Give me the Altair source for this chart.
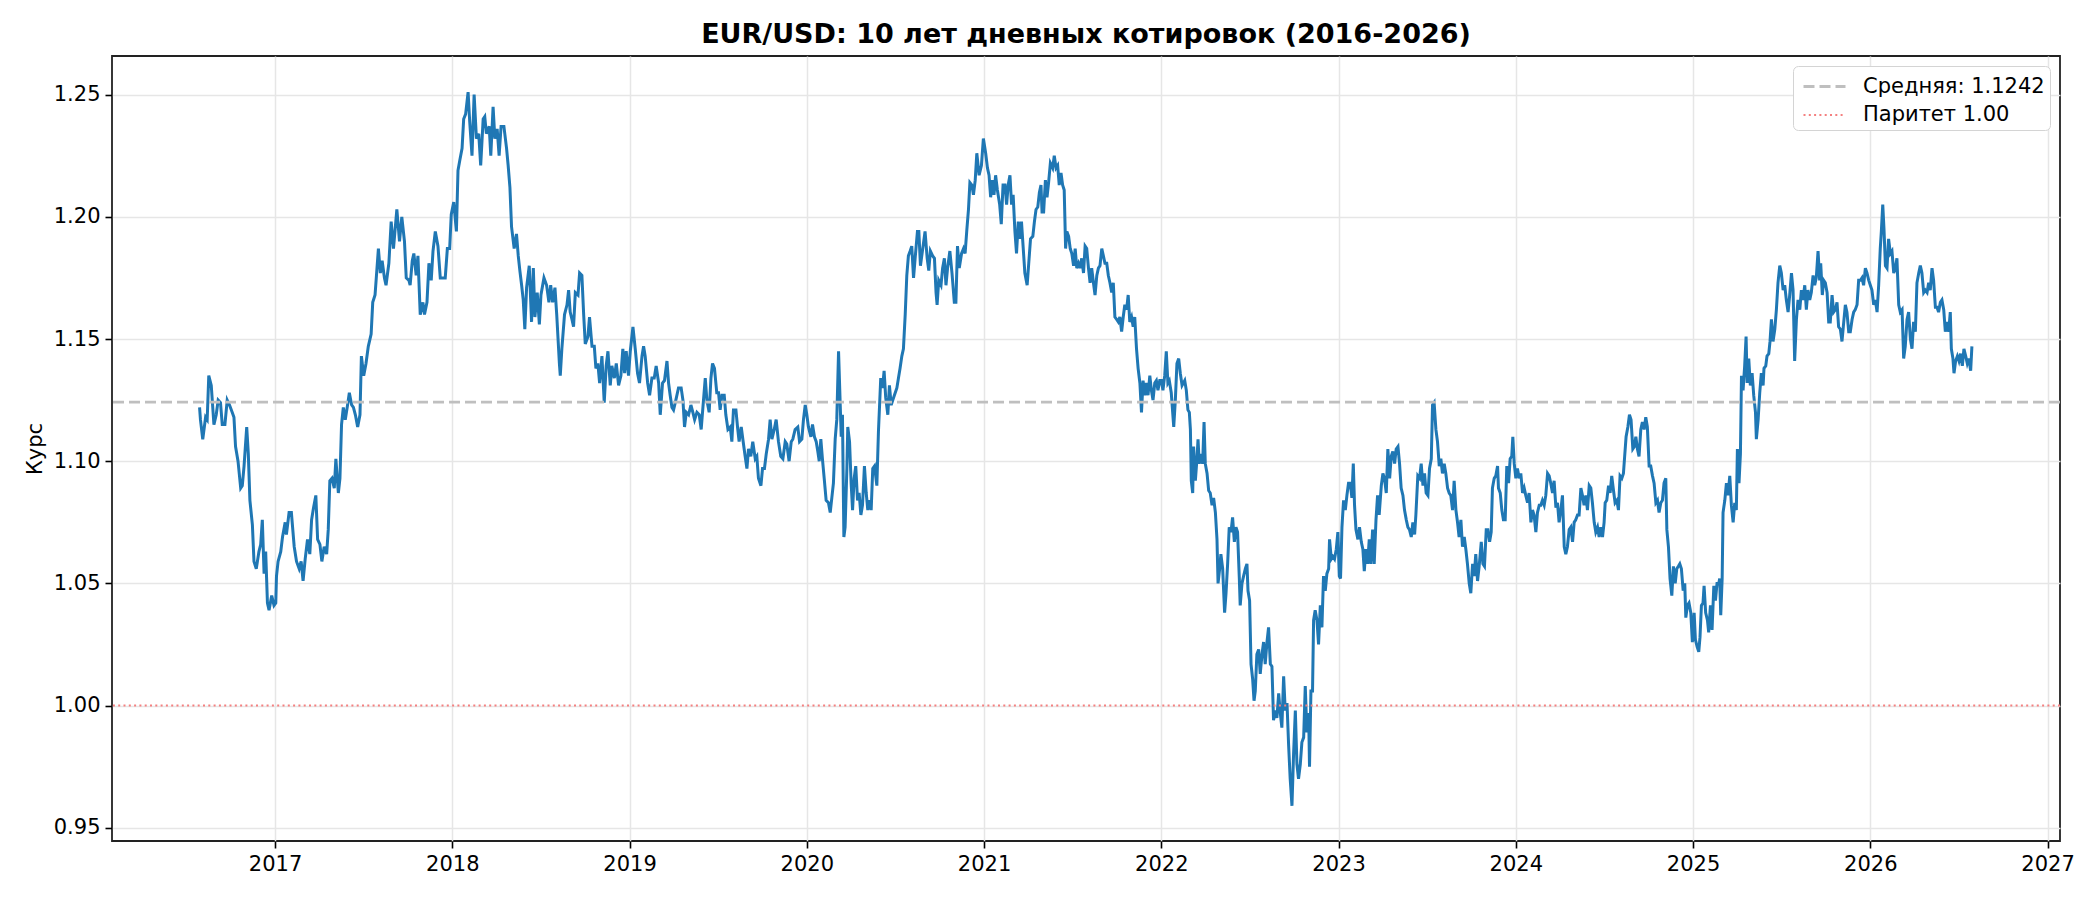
import altair as alt
import pandas as pd

# (decimal year, EUR/USD rate), by stretch
seg_2016_2018 = [
    (2016.574, 1.122), (2016.579, 1.117), (2016.592, 1.109), (2016.608, 1.118), (2016.617, 1.117),
    (2016.626, 1.135), (2016.640, 1.131), (2016.655, 1.115), (2016.668, 1.119), (2016.679, 1.125),
    (2016.692, 1.124), (2016.702, 1.115), (2016.717, 1.115), (2016.730, 1.125), (2016.743, 1.123),
    (2016.758, 1.120), (2016.768, 1.118), (2016.777, 1.106), (2016.791, 1.100), (2016.806, 1.089),
    (2016.815, 1.090), (2016.825, 1.098), (2016.840, 1.114), (2016.849, 1.103), (2016.858, 1.084),
    (2016.872, 1.074), (2016.881, 1.059), (2016.894, 1.056), (2016.909, 1.063), (2016.919, 1.066),
    (2016.928, 1.076), (2016.938, 1.054), (2016.947, 1.063), (2016.957, 1.042), (2016.966, 1.039),
    (2016.981, 1.045), (2016.994, 1.041), (2017.004, 1.042), (2017.008, 1.053), (2017.017, 1.059),
    (2017.032, 1.063), (2017.042, 1.069), (2017.057, 1.075), (2017.064, 1.070), (2017.079, 1.079),
    (2017.092, 1.079), (2017.108, 1.065), (2017.121, 1.059), (2017.136, 1.056), (2017.147, 1.059),
    (2017.158, 1.051), (2017.170, 1.060), (2017.183, 1.068), (2017.196, 1.062), (2017.206, 1.076),
    (2017.217, 1.081), (2017.230, 1.086), (2017.240, 1.068), (2017.253, 1.066), (2017.264, 1.059),
    (2017.277, 1.065), (2017.291, 1.062), (2017.300, 1.072), (2017.309, 1.092), (2017.321, 1.093),
    (2017.334, 1.089), (2017.343, 1.101), (2017.357, 1.087), (2017.366, 1.093), (2017.375, 1.115),
    (2017.385, 1.122), (2017.396, 1.117), (2017.409, 1.123), (2017.419, 1.128), (2017.432, 1.123),
    (2017.442, 1.122), (2017.453, 1.119), (2017.466, 1.114), (2017.479, 1.119), (2017.487, 1.143),
    (2017.500, 1.135), (2017.513, 1.140), (2017.526, 1.147), (2017.542, 1.152), (2017.551, 1.165),
    (2017.564, 1.168), (2017.570, 1.174), (2017.583, 1.187), (2017.594, 1.177), (2017.604, 1.182),
    (2017.617, 1.175), (2017.626, 1.172), (2017.642, 1.181), (2017.655, 1.198), (2017.668, 1.187),
    (2017.687, 1.203), (2017.702, 1.190), (2017.715, 1.200), (2017.730, 1.190), (2017.740, 1.175),
    (2017.755, 1.174), (2017.762, 1.172), (2017.774, 1.182), (2017.783, 1.185), (2017.796, 1.176),
    (2017.806, 1.184), (2017.819, 1.160), (2017.834, 1.165), (2017.843, 1.160), (2017.857, 1.165),
    (2017.868, 1.181), (2017.881, 1.174), (2017.891, 1.186), (2017.904, 1.194), (2017.919, 1.188),
    (2017.932, 1.175), (2017.947, 1.175), (2017.960, 1.175), (2017.972, 1.187), (2017.985, 1.187),
    (2017.994, 1.201), (2018.008, 1.206), (2018.023, 1.194), (2018.032, 1.219), (2018.042, 1.223),
    (2018.055, 1.228), (2018.064, 1.240), (2018.075, 1.242), (2018.089, 1.251), (2018.098, 1.239),
    (2018.111, 1.225), (2018.123, 1.250), (2018.136, 1.232), (2018.149, 1.234), (2018.160, 1.221),
    (2018.174, 1.240), (2018.183, 1.241), (2018.192, 1.234), (2018.208, 1.237), (2018.217, 1.225),
    (2018.230, 1.245), (2018.240, 1.232), (2018.253, 1.236), (2018.264, 1.225), (2018.275, 1.237),
    (2018.291, 1.237), (2018.306, 1.228), (2018.315, 1.221), (2018.325, 1.212), (2018.334, 1.196),
    (2018.349, 1.187), (2018.362, 1.193), (2018.372, 1.184), (2018.381, 1.178), (2018.391, 1.172),
    (2018.400, 1.166), (2018.409, 1.154), (2018.419, 1.171), (2018.434, 1.180), (2018.447, 1.157),
    (2018.457, 1.179), (2018.466, 1.159), (2018.479, 1.169), (2018.491, 1.156), (2018.500, 1.168),
    (2018.517, 1.175), (2018.532, 1.172), (2018.545, 1.165), (2018.555, 1.172), (2018.566, 1.165),
    (2018.579, 1.171), (2018.589, 1.160), (2018.604, 1.140),
]

seg_2018_2020 = [
    (2018.609, 1.135), (2018.618, 1.146), (2018.633, 1.160), (2018.647, 1.164), (2018.656, 1.170),
    (2018.665, 1.161), (2018.675, 1.158), (2018.684, 1.155), (2018.694, 1.169), (2018.709, 1.168),
    (2018.718, 1.177), (2018.731, 1.176), (2018.741, 1.160), (2018.750, 1.148), (2018.765, 1.151),
    (2018.774, 1.159), (2018.788, 1.147), (2018.801, 1.147), (2018.810, 1.138), (2018.821, 1.140),
    (2018.831, 1.132), (2018.844, 1.143), (2018.857, 1.124), (2018.868, 1.139), (2018.878, 1.145),
    (2018.891, 1.131), (2018.900, 1.139), (2018.914, 1.134), (2018.925, 1.140), (2018.938, 1.131),
    (2018.951, 1.135), (2018.962, 1.146), (2018.972, 1.136), (2018.981, 1.145), (2018.994, 1.135),
    (2019.004, 1.145), (2019.019, 1.155), (2019.032, 1.146), (2019.045, 1.136), (2019.056, 1.132),
    (2019.070, 1.143), (2019.079, 1.147), (2019.088, 1.143), (2019.102, 1.132), (2019.113, 1.127),
    (2019.126, 1.134), (2019.139, 1.134), (2019.150, 1.139), (2019.164, 1.132), (2019.173, 1.119),
    (2019.186, 1.132), (2019.197, 1.133), (2019.211, 1.141), (2019.220, 1.132), (2019.229, 1.127),
    (2019.239, 1.122), (2019.248, 1.121), (2019.261, 1.125), (2019.276, 1.130), (2019.291, 1.130),
    (2019.301, 1.125), (2019.310, 1.114), (2019.320, 1.120), (2019.333, 1.119), (2019.346, 1.123),
    (2019.357, 1.120), (2019.367, 1.117), (2019.380, 1.120), (2019.393, 1.119), (2019.404, 1.113),
    (2019.417, 1.125), (2019.427, 1.134), (2019.436, 1.125), (2019.449, 1.120), (2019.459, 1.134),
    (2019.468, 1.140), (2019.479, 1.138), (2019.492, 1.128), (2019.502, 1.128), (2019.511, 1.121),
    (2019.521, 1.127), (2019.534, 1.127), (2019.543, 1.119), (2019.555, 1.113), (2019.568, 1.114),
    (2019.577, 1.108), (2019.586, 1.121), (2019.600, 1.121), (2019.609, 1.114), (2019.618, 1.108),
    (2019.630, 1.114), (2019.639, 1.109), (2019.652, 1.102), (2019.662, 1.097), (2019.671, 1.105),
    (2019.684, 1.102), (2019.695, 1.108), (2019.709, 1.101), (2019.718, 1.102), (2019.727, 1.093),
    (2019.741, 1.090), (2019.750, 1.097), (2019.761, 1.097), (2019.771, 1.103), (2019.784, 1.109),
    (2019.793, 1.117), (2019.803, 1.109), (2019.816, 1.113), (2019.827, 1.117), (2019.840, 1.108),
    (2019.853, 1.102), (2019.865, 1.101), (2019.878, 1.108), (2019.887, 1.107), (2019.900, 1.100),
    (2019.912, 1.108), (2019.921, 1.109), (2019.934, 1.113), (2019.949, 1.114), (2019.959, 1.108),
    (2019.972, 1.109), (2019.981, 1.117), (2019.991, 1.123), (2020.000, 1.119), (2020.009, 1.114),
    (2020.023, 1.110), (2020.032, 1.115), (2020.043, 1.110), (2020.053, 1.108), (2020.062, 1.104),
    (2020.070, 1.100), (2020.079, 1.109), (2020.088, 1.101), (2020.098, 1.093), (2020.109, 1.084),
    (2020.122, 1.083), (2020.132, 1.079), (2020.141, 1.085), (2020.150, 1.091), (2020.160, 1.109),
    (2020.169, 1.117), (2020.179, 1.145), (2020.188, 1.124), (2020.194, 1.110), (2020.201, 1.119),
    (2020.209, 1.069), (2020.216, 1.073), (2020.226, 1.097), (2020.231, 1.114), (2020.241, 1.108),
    (2020.250, 1.091), (2020.258, 1.080), (2020.267, 1.093), (2020.276, 1.098), (2020.286, 1.084),
    (2020.295, 1.087), (2020.305, 1.078), (2020.314, 1.082), (2020.325, 1.098), (2020.335, 1.087),
    (2020.344, 1.080), (2020.353, 1.084), (2020.363, 1.080), (2020.372, 1.097), (2020.382, 1.098),
    (2020.395, 1.090), (2020.404, 1.112), (2020.417, 1.134), (2020.427, 1.130), (2020.436, 1.137),
    (2020.445, 1.126), (2020.457, 1.119), (2020.466, 1.131), (2020.476, 1.123), (2020.485, 1.125),
    (2020.494, 1.127), (2020.508, 1.130), (2020.517, 1.134), (2020.526, 1.138), (2020.536, 1.143),
    (2020.545, 1.146), (2020.555, 1.160), (2020.564, 1.176), (2020.573, 1.184), (2020.583, 1.186),
    (2020.592, 1.188), (2020.602, 1.175), (2020.611, 1.183), (2020.624, 1.194),
]

seg_2020_2022 = [
    (2020.632, 1.194), (2020.641, 1.180), (2020.654, 1.187), (2020.667, 1.194), (2020.679, 1.183),
    (2020.688, 1.178), (2020.697, 1.186), (2020.710, 1.184), (2020.720, 1.183), (2020.729, 1.169),
    (2020.735, 1.164), (2020.744, 1.174), (2020.757, 1.172), (2020.766, 1.179), (2020.776, 1.183),
    (2020.785, 1.172), (2020.794, 1.179), (2020.807, 1.186), (2020.819, 1.177), (2020.832, 1.165),
    (2020.841, 1.165), (2020.850, 1.188), (2020.860, 1.179), (2020.873, 1.185), (2020.884, 1.187),
    (2020.893, 1.185), (2020.903, 1.195), (2020.912, 1.203), (2020.920, 1.214), (2020.931, 1.213),
    (2020.940, 1.209), (2020.950, 1.215), (2020.959, 1.226), (2020.972, 1.217), (2020.985, 1.221),
    (2020.996, 1.232), (2021.009, 1.226), (2021.019, 1.220), (2021.028, 1.217), (2021.037, 1.208),
    (2021.047, 1.215), (2021.056, 1.209), (2021.065, 1.217), (2021.075, 1.211), (2021.088, 1.205),
    (2021.097, 1.197), (2021.107, 1.213), (2021.118, 1.213), (2021.127, 1.205), (2021.136, 1.213),
    (2021.146, 1.217), (2021.155, 1.205), (2021.164, 1.209), (2021.174, 1.194), (2021.183, 1.185),
    (2021.193, 1.198), (2021.202, 1.191), (2021.211, 1.198), (2021.221, 1.187), (2021.230, 1.177),
    (2021.243, 1.172), (2021.252, 1.181), (2021.262, 1.191), (2021.275, 1.192), (2021.284, 1.198),
    (2021.293, 1.203), (2021.303, 1.204), (2021.312, 1.210), (2021.321, 1.213), (2021.327, 1.202),
    (2021.336, 1.202), (2021.346, 1.215), (2021.355, 1.208), (2021.364, 1.214), (2021.374, 1.222),
    (2021.387, 1.220), (2021.396, 1.225), (2021.406, 1.220), (2021.415, 1.221), (2021.424, 1.213),
    (2021.434, 1.218), (2021.443, 1.213), (2021.452, 1.211), (2021.460, 1.187), (2021.467, 1.194),
    (2021.477, 1.192), (2021.486, 1.187), (2021.495, 1.185), (2021.505, 1.180), (2021.514, 1.187),
    (2021.523, 1.179), (2021.533, 1.181), (2021.542, 1.179), (2021.551, 1.183), (2021.561, 1.177),
    (2021.570, 1.188), (2021.579, 1.187), (2021.589, 1.179), (2021.598, 1.173), (2021.607, 1.179),
    (2021.617, 1.173), (2021.626, 1.168), (2021.636, 1.176), (2021.645, 1.179), (2021.654, 1.180),
    (2021.664, 1.187), (2021.673, 1.184), (2021.682, 1.181), (2021.692, 1.181), (2021.701, 1.176),
    (2021.710, 1.173), (2021.720, 1.169), (2021.729, 1.173), (2021.738, 1.159), (2021.748, 1.158),
    (2021.757, 1.157), (2021.766, 1.159), (2021.776, 1.153), (2021.785, 1.159), (2021.794, 1.164),
    (2021.804, 1.162), (2021.813, 1.168), (2021.822, 1.157), (2021.832, 1.159), (2021.841, 1.155),
    (2021.850, 1.159), (2021.860, 1.146), (2021.869, 1.138), (2021.879, 1.132), (2021.888, 1.120),
    (2021.897, 1.133), (2021.907, 1.127), (2021.916, 1.132), (2021.925, 1.127), (2021.935, 1.135),
    (2021.944, 1.129), (2021.953, 1.125), (2021.963, 1.132), (2021.972, 1.133), (2021.981, 1.129),
    (2021.991, 1.133), (2022.000, 1.133), (2022.009, 1.129), (2022.019, 1.135), (2022.028, 1.145),
    (2022.037, 1.132),
]

seg_2022_2023 = [
    (2022.045, 1.133), (2022.056, 1.128), (2022.070, 1.114), (2022.079, 1.125), (2022.088, 1.140),
    (2022.098, 1.142), (2022.107, 1.136), (2022.117, 1.131), (2022.132, 1.133), (2022.141, 1.129),
    (2022.150, 1.121), (2022.158, 1.120), (2022.164, 1.113), (2022.169, 1.092), (2022.177, 1.087),
    (2022.182, 1.106), (2022.192, 1.092), (2022.201, 1.101), (2022.207, 1.109), (2022.214, 1.099),
    (2022.224, 1.103), (2022.233, 1.099), (2022.241, 1.116), (2022.248, 1.099), (2022.258, 1.095),
    (2022.267, 1.088), (2022.276, 1.087), (2022.286, 1.082), (2022.295, 1.085), (2022.305, 1.079),
    (2022.314, 1.068), (2022.320, 1.050), (2022.329, 1.056), (2022.336, 1.062), (2022.346, 1.056),
    (2022.357, 1.038), (2022.365, 1.046), (2022.374, 1.058), (2022.383, 1.073), (2022.393, 1.071),
    (2022.402, 1.077), (2022.412, 1.067), (2022.421, 1.073), (2022.430, 1.071), (2022.440, 1.052),
    (2022.445, 1.041), (2022.455, 1.050), (2022.464, 1.053), (2022.474, 1.056), (2022.483, 1.058),
    (2022.489, 1.047), (2022.498, 1.043), (2022.506, 1.017), (2022.515, 1.011), (2022.523, 1.002),
    (2022.530, 1.006), (2022.539, 1.021), (2022.549, 1.023), (2022.558, 1.013), (2022.568, 1.021),
    (2022.577, 1.026), (2022.586, 1.017), (2022.596, 1.026), (2022.605, 1.032), (2022.615, 1.017),
    (2022.624, 1.016), (2022.633, 0.994), (2022.643, 0.998), (2022.652, 0.995), (2022.662, 1.005),
    (2022.671, 0.997), (2022.680, 0.991), (2022.690, 1.012), (2022.699, 0.998), (2022.709, 1.001),
    (2022.718, 0.984), (2022.727, 0.970), (2022.737, 0.959), (2022.746, 0.980), (2022.756, 0.998),
    (2022.765, 0.976), (2022.774, 0.970), (2022.784, 0.976), (2022.793, 0.985), (2022.803, 0.987),
    (2022.812, 1.008), (2022.821, 0.989), (2022.831, 0.997), (2022.836, 0.975), (2022.844, 1.006),
    (2022.853, 1.006), (2022.859, 1.035), (2022.868, 1.039), (2022.878, 1.035), (2022.887, 1.025),
    (2022.897, 1.041), (2022.906, 1.032), (2022.915, 1.053), (2022.925, 1.047), (2022.934, 1.054),
    (2022.944, 1.056), (2022.949, 1.068), (2022.959, 1.060), (2022.968, 1.061), (2022.977, 1.060),
    (2022.987, 1.064), (2022.996, 1.071), (2023.004, 1.053), (2023.011, 1.052), (2023.019, 1.073),
    (2023.028, 1.084), (2023.038, 1.080), (2023.047, 1.086), (2023.056, 1.091),
]

seg_2023_2024 = [
    (2023.066, 1.091), (2023.075, 1.085), (2023.083, 1.099), (2023.090, 1.082), (2023.098, 1.072),
    (2023.109, 1.068), (2023.118, 1.073), (2023.128, 1.067), (2023.137, 1.064), (2023.145, 1.055),
    (2023.154, 1.064), (2023.164, 1.058), (2023.173, 1.068), (2023.182, 1.058), (2023.192, 1.072),
    (2023.201, 1.058), (2023.211, 1.076), (2023.220, 1.086), (2023.229, 1.078), (2023.241, 1.090),
    (2023.250, 1.095), (2023.259, 1.093), (2023.269, 1.087), (2023.278, 1.105), (2023.288, 1.093),
    (2023.297, 1.102), (2023.306, 1.104), (2023.316, 1.099), (2023.325, 1.105), (2023.335, 1.106),
    (2023.344, 1.099), (2023.353, 1.089), (2023.363, 1.086), (2023.372, 1.080), (2023.382, 1.076),
    (2023.391, 1.073), (2023.400, 1.072), (2023.410, 1.069), (2023.419, 1.075), (2023.429, 1.070),
    (2023.436, 1.078), (2023.447, 1.094), (2023.457, 1.093), (2023.466, 1.099), (2023.476, 1.090),
    (2023.485, 1.095), (2023.494, 1.087), (2023.504, 1.086), (2023.513, 1.097), (2023.523, 1.101),
    (2023.530, 1.123), (2023.539, 1.124), (2023.549, 1.113), (2023.558, 1.108), (2023.568, 1.098),
    (2023.577, 1.101), (2023.586, 1.095), (2023.596, 1.099), (2023.605, 1.095), (2023.615, 1.089),
    (2023.624, 1.087), (2023.633, 1.086), (2023.643, 1.080), (2023.652, 1.092), (2023.662, 1.080),
    (2023.671, 1.075), (2023.680, 1.069), (2023.690, 1.076), (2023.699, 1.065), (2023.709, 1.069),
    (2023.718, 1.064), (2023.727, 1.058), (2023.737, 1.050), (2023.746, 1.046), (2023.756, 1.058),
    (2023.765, 1.053), (2023.774, 1.062), (2023.784, 1.051), (2023.793, 1.057), (2023.805, 1.067),
    (2023.814, 1.058), (2023.823, 1.057), (2023.833, 1.072), (2023.842, 1.072), (2023.852, 1.067),
    (2023.861, 1.071), (2023.868, 1.089), (2023.878, 1.093), (2023.887, 1.094), (2023.897, 1.098),
    (2023.902, 1.089), (2023.912, 1.087), (2023.921, 1.080), (2023.930, 1.076), (2023.940, 1.076),
    (2023.949, 1.098), (2023.959, 1.091), (2023.968, 1.101), (2023.977, 1.102), (2023.983, 1.110),
    (2023.991, 1.099), (2024.000, 1.093), (2024.009, 1.097), (2024.019, 1.093), (2024.028, 1.095),
    (2024.038, 1.087), (2024.047, 1.089), (2024.056, 1.086), (2024.066, 1.083), (2024.075, 1.087),
    (2024.085, 1.075), (2024.094, 1.080), (2024.103, 1.078), (2024.113, 1.071), (2024.122, 1.079),
    (2024.132, 1.082), (2024.141, 1.082), (2024.150, 1.084), (2024.160, 1.082), (2024.169, 1.086),
    (2024.179, 1.095), (2024.188, 1.094), (2024.197, 1.091), (2024.207, 1.087), (2024.216, 1.092),
    (2024.226, 1.081), (2024.235, 1.083), (2024.244, 1.075), (2024.254, 1.080), (2024.263, 1.086),
    (2024.273, 1.065), (2024.282, 1.062), (2024.291, 1.065), (2024.301, 1.072), (2024.310, 1.073),
    (2024.320, 1.067), (2024.329, 1.075), (2024.338, 1.076), (2024.348, 1.078), (2024.357, 1.078),
    (2024.367, 1.089), (2024.376, 1.086), (2024.385, 1.082), (2024.395, 1.086), (2024.404, 1.080),
    (2024.414, 1.090), (2024.423, 1.089), (2024.432, 1.083), (2024.442, 1.075), (2024.451, 1.071),
    (2024.461, 1.073), (2024.470, 1.069), (2024.479, 1.073), (2024.489, 1.069), (2024.498, 1.075),
    (2024.504, 1.083), (2024.513, 1.084), (2024.523, 1.090), (2024.532, 1.087), (2024.541, 1.094),
    (2024.551, 1.088), (2024.560, 1.083), (2024.570, 1.084), (2024.579, 1.080), (2024.588, 1.094),
    (2024.598, 1.093), (2024.607, 1.095), (2024.613, 1.101), (2024.622, 1.110), (2024.632, 1.114),
    (2024.641, 1.119), (2024.650, 1.117), (2024.660, 1.105), (2024.669, 1.106), (2024.677, 1.110),
    (2024.686, 1.105), (2024.695, 1.102), (2024.705, 1.113), (2024.714, 1.116), (2024.724, 1.113),
    (2024.733, 1.118), (2024.742, 1.114), (2024.752, 1.098), (2024.761, 1.098), (2024.771, 1.094),
    (2024.780, 1.091), (2024.790, 1.083), (2024.799, 1.084), (2024.808, 1.079), (2024.818, 1.083),
    (2024.827, 1.084), (2024.836, 1.091), (2024.846, 1.093), (2024.852, 1.072), (2024.861, 1.065),
    (2024.870, 1.052), (2024.880, 1.045), (2024.889, 1.057), (2024.899, 1.050), (2024.908, 1.056),
    (2024.917, 1.057),
]

seg_2025_2026 = [
    (2024.925, 1.058), (2024.934, 1.056), (2024.944, 1.047), (2024.953, 1.050), (2024.959, 1.036),
    (2024.968, 1.041), (2024.977, 1.042), (2024.987, 1.038), (2024.996, 1.026), (2025.006, 1.038),
    (2025.013, 1.027), (2025.023, 1.024), (2025.032, 1.022), (2025.039, 1.028), (2025.047, 1.041),
    (2025.056, 1.042), (2025.062, 1.049), (2025.071, 1.038), (2025.081, 1.035), (2025.088, 1.030),
    (2025.098, 1.041), (2025.107, 1.031), (2025.117, 1.049), (2025.126, 1.043), (2025.135, 1.050),
    (2025.145, 1.050), (2025.150, 1.052), (2025.156, 1.037), (2025.164, 1.052), (2025.169, 1.079),
    (2025.179, 1.084), (2025.188, 1.091), (2025.197, 1.086), (2025.207, 1.094), (2025.216, 1.082),
    (2025.226, 1.075), (2025.235, 1.083), (2025.244, 1.080), (2025.250, 1.105), (2025.259, 1.091),
    (2025.267, 1.103), (2025.273, 1.135), (2025.282, 1.129), (2025.291, 1.139), (2025.299, 1.151),
    (2025.305, 1.132), (2025.314, 1.142), (2025.323, 1.131), (2025.333, 1.136), (2025.342, 1.127),
    (2025.352, 1.120), (2025.357, 1.109), (2025.367, 1.117), (2025.376, 1.128), (2025.385, 1.136),
    (2025.395, 1.131), (2025.400, 1.138), (2025.410, 1.139), (2025.417, 1.143), (2025.427, 1.144),
    (2025.434, 1.149), (2025.442, 1.158), (2025.451, 1.149), (2025.461, 1.154), (2025.470, 1.162),
    (2025.479, 1.173), (2025.489, 1.180), (2025.498, 1.177), (2025.508, 1.170), (2025.517, 1.172),
    (2025.526, 1.166), (2025.536, 1.161), (2025.545, 1.168), (2025.555, 1.177), (2025.564, 1.170),
    (2025.573, 1.141), (2025.583, 1.158), (2025.592, 1.166), (2025.602, 1.162), (2025.611, 1.170),
    (2025.620, 1.166), (2025.630, 1.172), (2025.639, 1.162), (2025.648, 1.170), (2025.658, 1.166),
    (2025.667, 1.169), (2025.677, 1.176), (2025.686, 1.172), (2025.695, 1.175), (2025.705, 1.186),
    (2025.714, 1.174), (2025.720, 1.181), (2025.729, 1.168), (2025.737, 1.174), (2025.746, 1.173),
    (2025.756, 1.169), (2025.765, 1.157), (2025.774, 1.157), (2025.784, 1.168), (2025.793, 1.161),
    (2025.803, 1.162), (2025.812, 1.165), (2025.821, 1.155), (2025.831, 1.154), (2025.840, 1.149),
    (2025.850, 1.157), (2025.859, 1.164), (2025.868, 1.161), (2025.878, 1.153), (2025.887, 1.153),
    (2025.897, 1.158), (2025.906, 1.161), (2025.915, 1.162), (2025.925, 1.164), (2025.934, 1.174),
    (2025.944, 1.174), (2025.953, 1.175), (2025.962, 1.172), (2025.972, 1.179), (2025.981, 1.177),
    (2025.991, 1.174), (2026.000, 1.172), (2026.009, 1.170), (2026.019, 1.164), (2026.028, 1.166),
    (2026.038, 1.161), (2026.047, 1.172), (2026.056, 1.187), (2026.062, 1.194), (2026.070, 1.205),
    (2026.077, 1.195), (2026.085, 1.180), (2026.094, 1.179), (2026.103, 1.191), (2026.113, 1.185),
    (2026.122, 1.186), (2026.132, 1.177), (2026.141, 1.179), (2026.150, 1.183), (2026.160, 1.164),
    (2026.169, 1.161), (2026.179, 1.162), (2026.188, 1.142), (2026.197, 1.147), (2026.207, 1.158),
    (2026.216, 1.161), (2026.226, 1.150), (2026.235, 1.146), (2026.244, 1.157), (2026.254, 1.153),
    (2026.263, 1.173), (2026.273, 1.177), (2026.282, 1.180), (2026.291, 1.177), (2026.301, 1.169),
    (2026.310, 1.170), (2026.320, 1.169), (2026.329, 1.173), (2026.338, 1.170), (2026.348, 1.179),
    (2026.357, 1.174), (2026.367, 1.163), (2026.376, 1.163), (2026.385, 1.161), (2026.395, 1.165),
    (2026.404, 1.166), (2026.414, 1.162), (2026.423, 1.153), (2026.432, 1.157), (2026.442, 1.153),
    (2026.451, 1.161), (2026.457, 1.146), (2026.466, 1.142), (2026.472, 1.136), (2026.481, 1.141),
    (2026.491, 1.143), (2026.500, 1.141), (2026.509, 1.144), (2026.519, 1.139), (2026.528, 1.146),
    (2026.538, 1.143), (2026.547, 1.140), (2026.556, 1.142), (2026.566, 1.137), (2026.573, 1.147),
]

mean_value = 1.1242
parity_value = 1.00
ref_labels = ["Средняя: 1.1242", "Паритет 1.00"]
ref_values = [mean_value, parity_value]
year_ticks = list(range(2017, 2028))
rate_ticks = [0.95, 1.00, 1.05, 1.10, 1.15, 1.20, 1.25]

rows = seg_2016_2018 + seg_2018_2020 + seg_2020_2022 + seg_2022_2023 + seg_2023_2024 + seg_2025_2026
df = pd.DataFrame(rows, columns=["year", "rate"])
ref_df = pd.DataFrame({"label": ref_labels, "value": ref_values})

FONT = "DejaVu Sans"

x_scale = alt.Scale(domain=[2016.08, 2027.07], nice=False, zero=False)
y_scale = alt.Scale(domain=[0.9446, 1.2658], nice=False, zero=False)

line = alt.Chart(df).mark_line(color="#1f77b4", strokeWidth=3.0, clip=True).encode(
    x=alt.X("year:Q", scale=x_scale,
            axis=alt.Axis(values=year_ticks, format="d", title=None, labelFlush=False)),
    y=alt.Y("rate:Q", scale=y_scale,
            axis=alt.Axis(values=rate_ticks, format=".2f", title="Курс")),
)

legend_style = dict(
    title=None, orient="top-right", offset=10,
    symbolType="M-1.5,0H1.5", symbolSize=784, symbolStrokeWidth=2.4, symbolOffset=11,
    labelFont=FONT, labelFontSize=21, labelColor="black", labelOffset=23, labelLimit=400,
    fillColor="white", strokeColor="#d4d4d4", cornerRadius=5, padding=5, rowPadding=3,
)

refs = alt.Chart(ref_df).mark_rule().encode(
    y=alt.Y("value:Q", scale=y_scale),
    color=alt.Color("label:N",
                    scale=alt.Scale(domain=ref_labels, range=["#bfbfbf", "#f48080"]),
                    legend=alt.Legend(**legend_style)),
    strokeDash=alt.StrokeDash("label:N",
                              scale=alt.Scale(domain=ref_labels, range=[[11, 5], [2, 3.3]]),
                              legend=alt.Legend(**legend_style)),
    strokeWidth=alt.StrokeWidth("label:N",
                                scale=alt.Scale(domain=ref_labels, range=[2.8, 2.0]),
                                legend=None),
)

chart = alt.layer(line, refs).properties(
    width=1948,
    height=785,
    background="white",
    autosize=alt.AutoSizeParams(type="none"),
    padding={"left": 104, "top": 48, "right": 30, "bottom": 40},
    title=alt.TitleParams("EUR/USD: 10 лет дневных котировок (2016-2026)",
                          font=FONT, fontSize=27, fontWeight="bold", color="black",
                          anchor="middle", baseline="alphabetic", offset=11, dy=25),
).configure_view(
    stroke="#222222", strokeWidth=1.8
).configure_axis(
    domain=False,
    grid=True, gridColor="#e6e6e6", gridWidth=1.5,
    ticks=True, tickColor="black", tickSize=7, tickWidth=1.6,
    labelFont=FONT, labelFontSize=21, labelColor="black", labelPadding=5,
    titleFont=FONT, titleFontSize=21, titleFontWeight="normal", titleColor="black",
    titlePadding=8,
)

chart.save("out.html", embed_options={"renderer": "svg", "actions": False})
